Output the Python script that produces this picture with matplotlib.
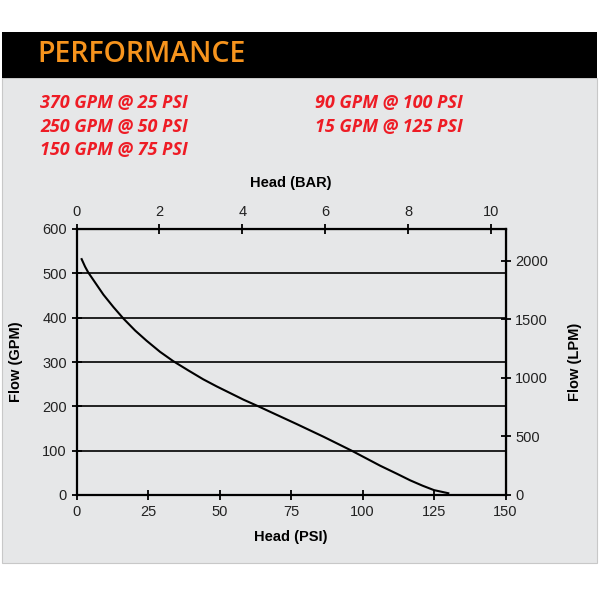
import matplotlib.pyplot as plt
from matplotlib.patches import Rectangle

# pump curve
head_psi = [1.8, 3.0, 4.1, 9.4, 12.9, 16.4, 20.5, 24.5, 29.2, 33.8, 39.1, 44.3, 49.0,
            53.7, 58.4, 63.6, 67.6, 77.0, 86.5, 96.2, 106.2, 112.0, 116.7, 121.0, 125.0, 130.0]
flow_gpm = [532, 515, 502, 452, 424, 398, 371, 348, 323, 302, 281, 261, 245,
            230, 215, 200, 188, 160, 131, 100, 66, 48, 33, 21, 11, 4]

ratings_left = ["370 GPM @ 25 PSI", "250 GPM @ 50 PSI", "150 GPM @ 75 PSI"]
ratings_right = ["90 GPM @ 100 PSI", "15 GPM @ 125 PSI"]

PSI_PER_BAR = 14.5038
LPM_PER_GPM = 3.785

fig = plt.figure(figsize=(6, 6), dpi=100)
fig.patch.set_facecolor("white")

# gray panel + black banner
fig.add_artist(Rectangle((2 / 600, 37 / 600), 595 / 600, 485 / 600, transform=fig.transFigure,
                         facecolor="#e6e7e8", edgecolor="#c8c8c8", lw=0.8, zorder=0))
fig.add_artist(Rectangle((2 / 600, 522 / 600), 595 / 600, 46 / 600, transform=fig.transFigure,
                         facecolor="black", edgecolor="none", zorder=0))

fig.text(37 / 600, 545 / 600, "PERFORMANCE", color="#f7941d", fontsize=20.5,
         family="Open Sans", weight="semibold", va="center", ha="left")

red = "#ee1c25"
for i, t in enumerate(ratings_left):
    fig.text(40 / 600, (600 - 103 - i * 23.5) / 600, t, color=red, fontsize=13,
             family="Open Sans", style="italic", weight="bold", va="center")
for i, t in enumerate(ratings_right):
    fig.text(315 / 600, (600 - 103 - i * 23.5) / 600, t, color=red, fontsize=13,
             family="Open Sans", style="italic", weight="bold", va="center")

ax = fig.add_axes([76.5 / 600, 105 / 600, 429 / 600, 266 / 600])
ax.patch.set_alpha(0)
ax.plot(head_psi, flow_gpm, color="black", lw=1.5, zorder=3, solid_joinstyle="round")
ax.set_xlim(0, 150)
ax.set_ylim(0, 600)
ax.set_xticks([0, 25, 50, 75, 100, 125, 150])
ax.set_yticks([0, 100, 200, 300, 400, 500, 600])
for y in [100, 200, 300, 400, 500]:
    ax.axhline(y, color="black", lw=1.2, zorder=2)
for s in ax.spines.values():
    s.set_linewidth(1.6)
    s.set_color("black")

tick_kw = dict(direction="inout", length=7, width=1.3, labelsize=10.5, labelcolor="#222222", color="black")
ax.tick_params(**tick_kw)
ax.set_xlabel("Head (PSI)", fontsize=10.5, weight="bold", family="Liberation Sans", labelpad=8)
ax.set_ylabel("Flow (GPM)", fontsize=10.5, weight="bold", family="Liberation Sans", labelpad=14)

top = ax.secondary_xaxis("top", functions=(lambda p: p / PSI_PER_BAR, lambda b: b * PSI_PER_BAR))
top.set_xticks([0, 2, 4, 6, 8, 10])
top.tick_params(**tick_kw)
top.set_xlabel("Head (BAR)", fontsize=10.5, weight="bold", family="Liberation Sans", labelpad=13)

right = ax.secondary_yaxis("right", functions=(lambda g: g * LPM_PER_GPM, lambda l: l / LPM_PER_GPM))
right.set_yticks([0, 500, 1000, 1500, 2000])
right.tick_params(**tick_kw)
right.set_ylabel("Flow (LPM)", fontsize=10.5, weight="bold", family="Liberation Sans", labelpad=14)

for a in (ax, top, right):
    for lab in a.get_xticklabels() + a.get_yticklabels():
        lab.set_family("Liberation Sans")

fig.savefig("out.png", dpi=100)
